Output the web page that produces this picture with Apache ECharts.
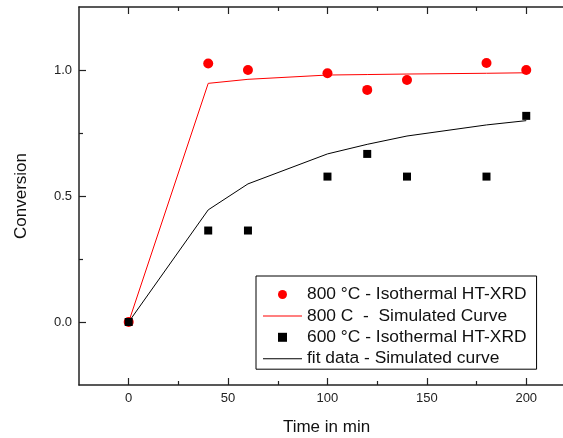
<!DOCTYPE html>
<html>
<head>
<meta charset="utf-8">
<script src="https://cdn.jsdelivr.net/npm/echarts@6/dist/echarts.min.js"></script>
<style>
  html, body { margin: 0; padding: 0; background: #fff; }
  #chart { width: 563px; height: 438px; }
</style>
</head>
<body>
<div id="chart"></div>
<script>
  // measured points (min)
  var timesExp = [0, 40, 60, 100, 120, 140, 180, 200];
  var conv800 = [0, 1.026, 1.0, 0.987, 0.921, 0.960, 1.028, 1.0];
  var conv600 = [0, 0.363, 0.363, 0.577, 0.667, 0.577, 0.577, 0.818];
  // simulated curves
  var timesSim = [0, 40, 60, 100, 120, 140, 180, 200];
  var sim800 = [0, 0.947, 0.963, 0.980, 0.982, 0.984, 0.987, 0.989];
  var sim600 = [0, 0.445, 0.548, 0.667, 0.705, 0.738, 0.782, 0.799];
  // ticks
  var xMajor = [0, 50, 100, 150, 200];
  var xMinor = [25, 75, 125, 175];
  var yMajor = [0, 0.5, 1.0];
  var yMinor = [0.25, 0.75];

  var names = [
    '800 °C - Isothermal HT-XRD',
    '800 C  -  Simulated Curve',
    '600 °C - Isothermal HT-XRD',
    'fit data - Simulated curve'
  ];

  var font = 'Liberation Sans, Arial, sans-serif';
  var axisColor = '#222';
  var lineIcon = 'path://M0,0L39,0L39,1L0,1Z';
  var squareIcon = 'path://M0,0L8,0L8,8L0,8Z';

  function pairs(xs, ys) {
    return xs.map(function (x, i) { return [x, ys[i]]; });
  }

  function xAxisDef(pos, major, withLine) {
    return {
      type: 'value',
      position: pos,
      min: -25,
      max: 220,
      axisLine: { show: withLine, onZero: false, lineStyle: { color: axisColor, width: 1.5 } },
      axisTick: {
        show: true, inside: true, length: major ? 7 : 4,
        customValues: major ? xMajor : xMinor,
        lineStyle: { color: axisColor, width: 1.2 }
      },
      axisLabel: { show: false },
      splitLine: { show: false }
    };
  }

  function yAxisDef(major, withLine) {
    return {
      type: 'value',
      position: 'left',
      min: -0.25,
      max: 1.25,
      axisLine: { show: withLine, onZero: false, lineStyle: { color: axisColor, width: 1.5 } },
      axisTick: {
        show: true, inside: true, length: major ? 7 : 4,
        customValues: major ? yMajor : yMinor,
        lineStyle: { color: axisColor, width: 1.2 }
      },
      axisLabel: { show: false },
      splitLine: { show: false }
    };
  }

  var chart = echarts.init(document.getElementById('chart'));

  var xMain = xAxisDef('bottom', true, true);
  xMain.axisLabel = {
    show: true, customValues: xMajor, margin: 7,
    fontSize: 13, fontFamily: font, color: axisColor
  };
  xMain.name = 'Time in min';
  xMain.nameLocation = 'middle';
  xMain.nameGap = 34;
  xMain.nameTextStyle = { fontSize: 17, fontFamily: font, color: '#111', padding: [0, 0, 0, 8] };

  var yMain = yAxisDef(true, true);
  yMain.axisLabel = {
    show: true, customValues: yMajor, margin: 7,
    fontSize: 13, fontFamily: font, color: axisColor,
    formatter: function (v) { return v.toFixed(1); }
  };
  yMain.name = 'Conversion';
  yMain.nameLocation = 'middle';
  yMain.nameGap = 49;
  yMain.nameTextStyle = { fontSize: 17, fontFamily: font, color: '#111' };

  chart.setOption({
    backgroundColor: '#fff',
    animation: false,
    grid: { left: 79, top: 7, width: 487, height: 378, outerBoundsMode: 'none' },
    legend: {
      data: [
        { name: names[0], icon: 'circle' },
        { name: names[1], icon: lineIcon },
        { name: names[2], icon: squareIcon },
        { name: names[3], icon: lineIcon }
      ],
      orient: 'vertical',
      left: 256,
      top: 276,
      padding: [10, 10, 2, 7],
      itemWidth: 39,
      itemHeight: 9,
      itemGap: 4.4,
      borderColor: '#000',
      borderWidth: 1,
      borderRadius: 0,
      textStyle: { fontSize: 17.4, fontFamily: font, color: '#111' }
    },
    xAxis: [
      xMain,
      xAxisDef('bottom', false, false),
      xAxisDef('top', true, true),
      xAxisDef('top', false, false)
    ],
    yAxis: [
      yMain,
      yAxisDef(false, false)
    ],
    series: [
      {
        name: names[1],
        type: 'line',
        symbol: 'none',
        data: pairs(timesSim, sim800),
        lineStyle: { color: '#ff0000', width: 1 },
        itemStyle: { color: '#ff0000' },
        z: 2
      },
      {
        name: names[3],
        type: 'line',
        symbol: 'none',
        data: pairs(timesSim, sim600),
        lineStyle: { color: '#000', width: 1 },
        itemStyle: { color: '#000' },
        z: 2
      },
      {
        name: names[0],
        type: 'scatter',
        symbol: 'circle',
        symbolSize: 10,
        data: pairs(timesExp, conv800),
        itemStyle: { color: '#ff0000', opacity: 1 },
        z: 3
      },
      {
        name: names[2],
        type: 'scatter',
        symbol: 'rect',
        symbolSize: 8,
        data: pairs(timesExp, conv600),
        itemStyle: { color: '#000', opacity: 1 },
        z: 4
      }
    ]
  });
</script>
</body>
</html>
